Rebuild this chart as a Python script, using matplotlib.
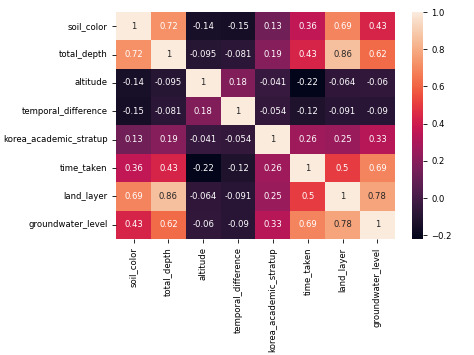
import numpy as np
import pandas as pd
import seaborn as sns
import matplotlib
matplotlib.use("Agg")
import matplotlib.pyplot as plt

# Column names of the correlation matrix
cols = ["soil_color", "total_depth", "altitude", "temporal_difference",
        "korea_academic_stratup", "time_taken", "land_layer", "groundwater_level"]

# Correlation values (rows in same order as cols)
soil_color = [1, 0.72, -0.14, -0.15, 0.13, 0.36, 0.69, 0.43]
total_depth = [0.72, 1, -0.095, -0.081, 0.19, 0.43, 0.86, 0.62]
altitude = [-0.14, -0.095, 1, 0.18, -0.041, -0.22, -0.064, -0.06]
temporal_difference = [-0.15, -0.081, 0.18, 1, -0.054, -0.12, -0.091, -0.09]
korea_academic_stratup = [0.13, 0.19, -0.041, -0.054, 1, 0.26, 0.25, 0.33]
time_taken = [0.36, 0.43, -0.22, -0.12, 0.26, 1, 0.5, 0.69]
land_layer = [0.69, 0.86, -0.064, -0.091, 0.25, 0.5, 1, 0.78]
groundwater_level = [0.43, 0.62, -0.06, -0.09, 0.33, 0.69, 0.78, 1]

corr = pd.DataFrame([soil_color, total_depth, altitude, temporal_difference,
                     korea_academic_stratup, time_taken, land_layer,
                     groundwater_level], index=cols, columns=cols)

fs = 6.1
plt.rcParams["font.size"] = fs

fig = plt.figure(figsize=(4.74, 3.55), dpi=100)
ax = fig.add_axes([0.245, 0.327, 0.588, 0.639])
cax = fig.add_axes([0.869, 0.327, 0.023, 0.639])

sns.heatmap(corr, annot=True, ax=ax, cbar_ax=cax, annot_kws={"size": fs})
ax.tick_params(labelsize=fs, length=2.6, width=0.6)
cax.tick_params(labelsize=fs, length=2.6, width=0.6)

fig.savefig("out.png", dpi=100)
